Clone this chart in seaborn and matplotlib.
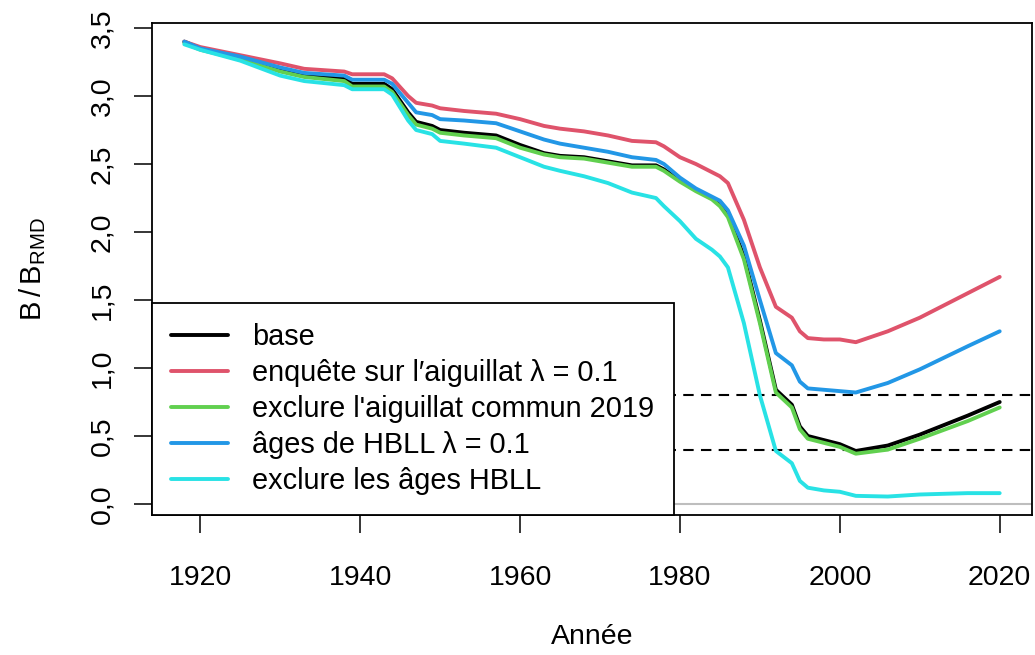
import numpy as np
import pandas as pd
import matplotlib
matplotlib.use("Agg")
import matplotlib.pyplot as plt
import seaborn as sns

# ------------------------------------------------------------
# Data
# ------------------------------------------------------------
years = [1918, 1920, 1925, 1930, 1933, 1938, 1939, 1943, 1944, 1946, 1947,
         1949, 1950, 1953, 1957, 1960, 1963, 1965, 1968, 1971, 1974, 1977,
         1978, 1980, 1982, 1984, 1985, 1986, 1988, 1990, 1992, 1994, 1995,
         1996, 1998, 2000, 2002, 2006, 2010, 2016, 2020]

base = [3.40, 3.35, 3.28, 3.19, 3.16, 3.13, 3.09, 3.09, 3.05, 2.88, 2.81,
        2.78, 2.75, 2.73, 2.71, 2.64, 2.58, 2.56, 2.55, 2.52, 2.49, 2.49,
        2.46, 2.38, 2.31, 2.25, 2.20, 2.13, 1.82, 1.35, 0.84, 0.73, 0.57,
        0.50, 0.47, 0.44, 0.39, 0.43, 0.51, 0.65, 0.75]

enquete = [3.40, 3.36, 3.30, 3.24, 3.20, 3.18, 3.16, 3.16, 3.13, 3.00, 2.95,
           2.93, 2.91, 2.89, 2.87, 2.83, 2.78, 2.76, 2.74, 2.71, 2.67, 2.66,
           2.63, 2.55, 2.50, 2.44, 2.41, 2.36, 2.09, 1.74, 1.45, 1.37, 1.27,
           1.22, 1.21, 1.21, 1.19, 1.27, 1.37, 1.55, 1.67]

excl_2019 = [3.39, 3.34, 3.27, 3.18, 3.14, 3.11, 3.07, 3.07, 3.03, 2.86, 2.79,
             2.76, 2.73, 2.71, 2.69, 2.62, 2.57, 2.55, 2.54, 2.51, 2.48, 2.48,
             2.45, 2.37, 2.30, 2.24, 2.19, 2.11, 1.80, 1.33, 0.82, 0.71, 0.55,
             0.48, 0.45, 0.42, 0.37, 0.40, 0.48, 0.61, 0.71]

ages_hbll = [3.40, 3.35, 3.29, 3.21, 3.17, 3.15, 3.12, 3.12, 3.09, 2.95, 2.88,
             2.86, 2.83, 2.82, 2.80, 2.74, 2.68, 2.65, 2.62, 2.59, 2.55, 2.53,
             2.50, 2.40, 2.32, 2.26, 2.23, 2.16, 1.90, 1.50, 1.11, 1.02, 0.90,
             0.85, 0.84, 0.83, 0.82, 0.89, 0.99, 1.16, 1.27]

excl_ages = [3.38, 3.34, 3.26, 3.15, 3.11, 3.08, 3.05, 3.05, 3.01, 2.82, 2.75,
             2.72, 2.67, 2.65, 2.62, 2.55, 2.48, 2.45, 2.41, 2.36, 2.29, 2.25,
             2.19, 2.08, 1.95, 1.87, 1.82, 1.74, 1.33, 0.80, 0.39, 0.30, 0.17,
             0.12, 0.10, 0.09, 0.06, 0.055, 0.07, 0.08, 0.08]

labels = ["base",
          "enquête sur l′aiguillat λ = 0.1",
          "exclure l'aiguillat commun 2019",
          "âges de HBLL λ = 0.1",
          "exclure les âges HBLL"]
colors = ["#000000", "#DF536B", "#61D04F", "#2297E6", "#28E2E5"]

ref_lines = [0.8, 0.4]
y_ticks = [0.0, 0.5, 1.0, 1.5, 2.0, 2.5, 3.0, 3.5]
x_ticks = [1920, 1940, 1960, 1980, 2000, 2020]

series = [base, enquete, excl_2019, ages_hbll, excl_ages]
df = pd.concat([
    pd.DataFrame({"Année": years, "B": vals, "scenario": lab})
    for lab, vals in zip(labels, series)
])

# ------------------------------------------------------------
# Plot
# ------------------------------------------------------------
sns.set_style("ticks")
plt.rcParams["font.family"] = ["Liberation Sans", "DejaVu Sans"]
plt.rcParams["mathtext.fontset"] = "custom"
plt.rcParams["mathtext.rm"] = "Liberation Sans"
for k in ["text.color", "axes.labelcolor", "xtick.color", "ytick.color"]:
    plt.rcParams[k] = "black"

fig = plt.figure(figsize=(10.35, 6.55), dpi=100)
ax = fig.add_axes([0.1466, 0.2137, 0.9974 - 0.1466, 0.9653 - 0.2137])

ax.axhline(0, color="#BEBEBE", lw=1.5, zorder=1)
for v in ref_lines:
    ax.axhline(v, color="black", lw=1.5, dashes=(5, 3.5), zorder=1)

sns.lineplot(data=df, x="Année", y="B", hue="scenario", hue_order=labels,
             palette=colors, linewidth=2.8, ax=ax, zorder=3)

ax.set_xlim(1913.92, 2024.08)
ax.set_ylim(-0.081, 3.539)
ax.set_xticks(x_ticks)
ax.set_yticks(y_ticks)
ax.set_xticklabels([str(t) for t in x_ticks], fontsize=20.5)
ax.set_yticklabels([f"{t:.1f}".replace(".", ",") for t in y_ticks],
                   fontsize=20.5, rotation=90, va="center")
ax.tick_params(direction="out", length=13, width=1.1, color="black")
ax.tick_params(axis="x", pad=23)
ax.tick_params(axis="y", pad=13)
for s in ax.spines.values():
    s.set_visible(True)
    s.set_color("black")
    s.set_linewidth(1.3)

ax.set_xlabel("Année", fontsize=20.5, labelpad=24)
ax.set_ylabel(r"$\mathregular{B\,/\,B_{RMD}}$", fontsize=21, labelpad=30)

leg = ax.legend(handles=ax.get_lines()[3:8], labels=labels, loc="lower left",
                fontsize=20.8, frameon=True, fancybox=False, framealpha=1,
                edgecolor="black", borderaxespad=0, handlelength=1.95,
                handletextpad=0.85, labelspacing=0.28, borderpad=0.68)
leg.get_frame().set_linewidth(1.3)
leg.set_zorder(5)

fig.savefig("out.png", dpi=100)
